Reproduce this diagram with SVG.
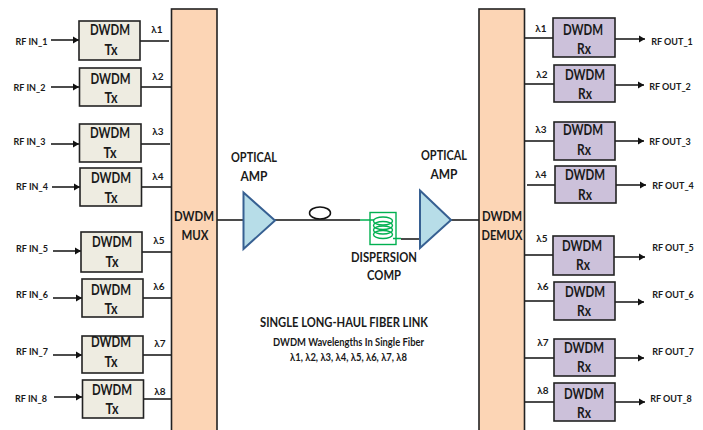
<svg xmlns="http://www.w3.org/2000/svg" width="703" height="430" viewBox="0 0 703 430">
<style>
text{font-family:Lato,"Liberation Sans",sans-serif;font-weight:700;fill:#1a1a1a;text-anchor:middle}
.b{font-size:14.5px}
.rf{font-size:9px}
.l{font-size:10px}
.big{font-size:13.5px}
.tx{fill:#eeece1;stroke:#222;stroke-width:1.6}
.rx{fill:#ccc1da;stroke:#222;stroke-width:1.6}
.bar{fill:#fcd5b5;stroke:#222;stroke-width:1.6}
.amp{fill:#b7dde8;stroke:#376092;stroke-width:2}
.c{fill:none;stroke:#111;stroke-width:1.5}
.g{fill:none;stroke:#00b050;stroke-width:1.4}
</style>
<defs><marker id="a" markerUnits="userSpaceOnUse" markerWidth="7" markerHeight="8" refX="6" refY="4" orient="auto"><path d="M0 .5L6 4L0 7.5z" fill="#111"/></marker></defs>
<g id="connectors">
<path class="c" marker-end="url(#a)" d="M51 40H79"/><path class="c" marker-end="url(#a)" d="M51 87H79"/><path class="c" marker-end="url(#a)" d="M51 144H79"/><path class="c" marker-end="url(#a)" d="M52 187H80"/><path class="c" marker-end="url(#a)" d="M53 251H81"/><path class="c" marker-end="url(#a)" d="M53 298H82"/><path class="c" marker-end="url(#a)" d="M53 355H82"/><path class="c" marker-end="url(#a)" d="M54 397H82"/>
<path class="c" d="M140 41H169M141 87H171M141 144H170M141 187H171M142 252H171M143 298H171M143 355H171M143 399H172"/>
<path class="c" d="M524 38H553M525 84H554M524 141H554M527 185H555M524 255H553M524 301H554M524 358H554M525 402H554"/>
<path class="c" marker-end="url(#a)" d="M615 39H645"/><path class="c" marker-end="url(#a)" d="M615 85H644"/><path class="c" marker-end="url(#a)" d="M615 141H644"/><path class="c" marker-end="url(#a)" d="M616 185H646"/><path class="c" marker-end="url(#a)" d="M614 257H645"/><path class="c" marker-end="url(#a)" d="M614 302H644"/><path class="c" marker-end="url(#a)" d="M614 358H644"/><path class="c" marker-end="url(#a)" d="M615 402H645"/>
<path class="c" d="M217 220H246M275 220H360M401 239H422M451 220H479"/>
</g>
<g id="mux"><rect class="bar" x="171.500" y="9" width="45.500" height="423"/><text class="big" x="194" y="221" textLength="40" lengthAdjust="spacingAndGlyphs">DWDM</text><text class="big" x="195" y="240" textLength="27" lengthAdjust="spacingAndGlyphs">MUX</text></g>
<g id="demux"><rect class="bar" x="479" y="9" width="45.500" height="423"/><text class="big" x="502" y="221" textLength="40" lengthAdjust="spacingAndGlyphs">DWDM</text><text class="big" x="502" y="240" textLength="41" lengthAdjust="spacingAndGlyphs">DEMUX</text></g>
<g id="tx1"><rect class="tx" x="79" y="21" width="61" height="39"/><text class="b" x="110" y="35" textLength="40" lengthAdjust="spacingAndGlyphs">DWDM</text><text class="b" x="111" y="55" textLength="13" lengthAdjust="spacingAndGlyphs">Tx</text></g>
<g id="tx2"><rect class="tx" x="79.500" y="68" width="61.500" height="38"/><text class="b" x="110.500" y="84" textLength="40" lengthAdjust="spacingAndGlyphs">DWDM</text><text class="b" x="111" y="103" textLength="13" lengthAdjust="spacingAndGlyphs">Tx</text></g>
<g id="tx3"><rect class="tx" x="79.500" y="124" width="61.500" height="38"/><text class="b" x="110" y="138" textLength="40" lengthAdjust="spacingAndGlyphs">DWDM</text><text class="b" x="110" y="158" textLength="13" lengthAdjust="spacingAndGlyphs">Tx</text></g>
<g id="tx4"><rect class="tx" x="80" y="168" width="61.500" height="38"/><text class="b" x="111" y="183" textLength="40" lengthAdjust="spacingAndGlyphs">DWDM</text><text class="b" x="111" y="203" textLength="13" lengthAdjust="spacingAndGlyphs">Tx</text></g>
<g id="tx5"><rect class="tx" x="81" y="232" width="61" height="40"/><text class="b" x="112" y="247" textLength="40" lengthAdjust="spacingAndGlyphs">DWDM</text><text class="b" x="112" y="267" textLength="13" lengthAdjust="spacingAndGlyphs">Tx</text></g>
<g id="tx6"><rect class="tx" x="82" y="279" width="61" height="38"/><text class="b" x="111" y="295" textLength="40" lengthAdjust="spacingAndGlyphs">DWDM</text><text class="b" x="111" y="314" textLength="13" lengthAdjust="spacingAndGlyphs">Tx</text></g>
<g id="tx7"><rect class="tx" x="82" y="336" width="61" height="37"/><text class="b" x="111" y="347" textLength="40" lengthAdjust="spacingAndGlyphs">DWDM</text><text class="b" x="111" y="367" textLength="13" lengthAdjust="spacingAndGlyphs">Tx</text></g>
<g id="tx8"><rect class="tx" x="82.500" y="380" width="61" height="38"/><text class="b" x="112" y="395" textLength="40" lengthAdjust="spacingAndGlyphs">DWDM</text><text class="b" x="112" y="414" textLength="13" lengthAdjust="spacingAndGlyphs">Tx</text></g>
<g id="rx1"><rect class="rx" x="553" y="18" width="62" height="39"/><text class="b" x="583" y="35" textLength="40" lengthAdjust="spacingAndGlyphs">DWDM</text><text class="b" x="584" y="54" textLength="14" lengthAdjust="spacingAndGlyphs">Rx</text></g>
<g id="rx2"><rect class="rx" x="554" y="65" width="61" height="37"/><text class="b" x="585" y="80" textLength="40" lengthAdjust="spacingAndGlyphs">DWDM</text><text class="b" x="585" y="99" textLength="14" lengthAdjust="spacingAndGlyphs">Rx</text></g>
<g id="rx3"><rect class="rx" x="554" y="122" width="61" height="38"/><text class="b" x="583" y="135" textLength="40" lengthAdjust="spacingAndGlyphs">DWDM</text><text class="b" x="584" y="155" textLength="14" lengthAdjust="spacingAndGlyphs">Rx</text></g>
<g id="rx4"><rect class="rx" x="555" y="166" width="61" height="37"/><text class="b" x="585" y="180" textLength="40" lengthAdjust="spacingAndGlyphs">DWDM</text><text class="b" x="585" y="200" textLength="14" lengthAdjust="spacingAndGlyphs">Rx</text></g>
<g id="rx5"><rect class="rx" x="553" y="236" width="61" height="39"/><text class="b" x="582" y="251" textLength="40" lengthAdjust="spacingAndGlyphs">DWDM</text><text class="b" x="583" y="270" textLength="14" lengthAdjust="spacingAndGlyphs">Rx</text></g>
<g id="rx6"><rect class="rx" x="554" y="282" width="61" height="38"/><text class="b" x="585" y="297" textLength="40" lengthAdjust="spacingAndGlyphs">DWDM</text><text class="b" x="584" y="316" textLength="14" lengthAdjust="spacingAndGlyphs">Rx</text></g>
<g id="rx7"><rect class="rx" x="554" y="339" width="61" height="37"/><text class="b" x="584" y="353" textLength="40" lengthAdjust="spacingAndGlyphs">DWDM</text><text class="b" x="584" y="372" textLength="14" lengthAdjust="spacingAndGlyphs">Rx</text></g>
<g id="rx8"><rect class="rx" x="554" y="383" width="61" height="38"/><text class="b" x="584" y="399" textLength="40" lengthAdjust="spacingAndGlyphs">DWDM</text><text class="b" x="584" y="418" textLength="14" lengthAdjust="spacingAndGlyphs">Rx</text></g>
<g id="labels-in"><text class="rf" x="31.500" y="45">RF IN_1</text><text class="rf" x="29.500" y="91">RF IN_2</text><text class="rf" x="29.500" y="145">RF IN_3</text><text class="rf" x="32" y="190">RF IN_4</text><text class="rf" x="32" y="252">RF IN_5</text><text class="rf" x="32" y="298">RF IN_6</text><text class="rf" x="32" y="355">RF IN_7</text><text class="rf" x="31" y="402">RF IN_8</text></g>
<g id="labels-out"><text class="rf" x="672" y="45">RF OUT_1</text><text class="rf" x="670" y="90">RF OUT_2</text><text class="rf" x="670" y="145">RF OUT_3</text><text class="rf" x="673" y="189">RF OUT_4</text><text class="rf" x="673" y="251">RF OUT_5</text><text class="rf" x="673" y="298">RF OUT_6</text><text class="rf" x="673" y="355">RF OUT_7</text><text class="rf" x="671" y="402">RF OUT_8</text></g>
<g id="lambda-tx"><text class="l" x="157" y="33">λ1</text><text class="l" x="158" y="80">λ2</text><text class="l" x="158" y="135">λ3</text><text class="l" x="158" y="180">λ4</text><text class="l" x="159" y="244">λ5</text><text class="l" x="159" y="290">λ6</text><text class="l" x="160" y="347">λ7</text><text class="l" x="160" y="395">λ8</text></g>
<g id="lambda-rx"><text class="l" x="541" y="32">λ1</text><text class="l" x="542" y="78">λ2</text><text class="l" x="541" y="133">λ3</text><text class="l" x="541" y="178">λ4</text><text class="l" x="542" y="242">λ5</text><text class="l" x="543" y="290">λ6</text><text class="l" x="543" y="346">λ7</text><text class="l" x="543" y="394">λ8</text></g>
<g id="amp1"><path class="amp" d="M243.500 192.500L275 220.500L243.500 249z"/><text class="big" x="254" y="162" textLength="46" lengthAdjust="spacingAndGlyphs">OPTICAL</text><text class="big" x="254" y="181" textLength="27" lengthAdjust="spacingAndGlyphs">AMP</text></g>
<g id="fiber"><ellipse cx="320" cy="213" rx="10.500" ry="6" fill="#fff" stroke="#111" stroke-width="1.500"/></g>
<g id="comp"><rect class="g" x="370" y="212.500" width="26" height="32"/><path class="g" d="M360 220H374M393 238.500H401"/><ellipse class="g" cx="383" cy="221" rx="9.500" ry="4"/><ellipse class="g" cx="383" cy="225.500" rx="9.500" ry="4"/><ellipse class="g" cx="383" cy="230" rx="9.500" ry="4"/><ellipse class="g" cx="383" cy="234.500" rx="9.500" ry="4"/><text class="big" x="384" y="262" textLength="66" lengthAdjust="spacingAndGlyphs">DISPERSION</text><text class="big" x="384" y="280" textLength="34" lengthAdjust="spacingAndGlyphs">COMP</text></g>
<g id="amp2"><path class="amp" d="M420 190.500L451 220L420 248z"/><text class="big" x="444" y="160" textLength="46" lengthAdjust="spacingAndGlyphs">OPTICAL</text><text class="big" x="444" y="179" textLength="27" lengthAdjust="spacingAndGlyphs">AMP</text></g>
<g id="caption"><text x="344" y="327" font-size="12.500" textLength="168" lengthAdjust="spacingAndGlyphs">SINGLE LONG-HAUL FIBER LINK</text><text x="348.500" y="346" font-size="10.500" textLength="151" lengthAdjust="spacingAndGlyphs">DWDM Wavelengths In Single Fiber</text><text x="348.500" y="361" font-size="10.500" textLength="117" lengthAdjust="spacingAndGlyphs">λ1, λ2, λ3, λ4, λ5, λ6, λ7, λ8</text></g>
</svg>
